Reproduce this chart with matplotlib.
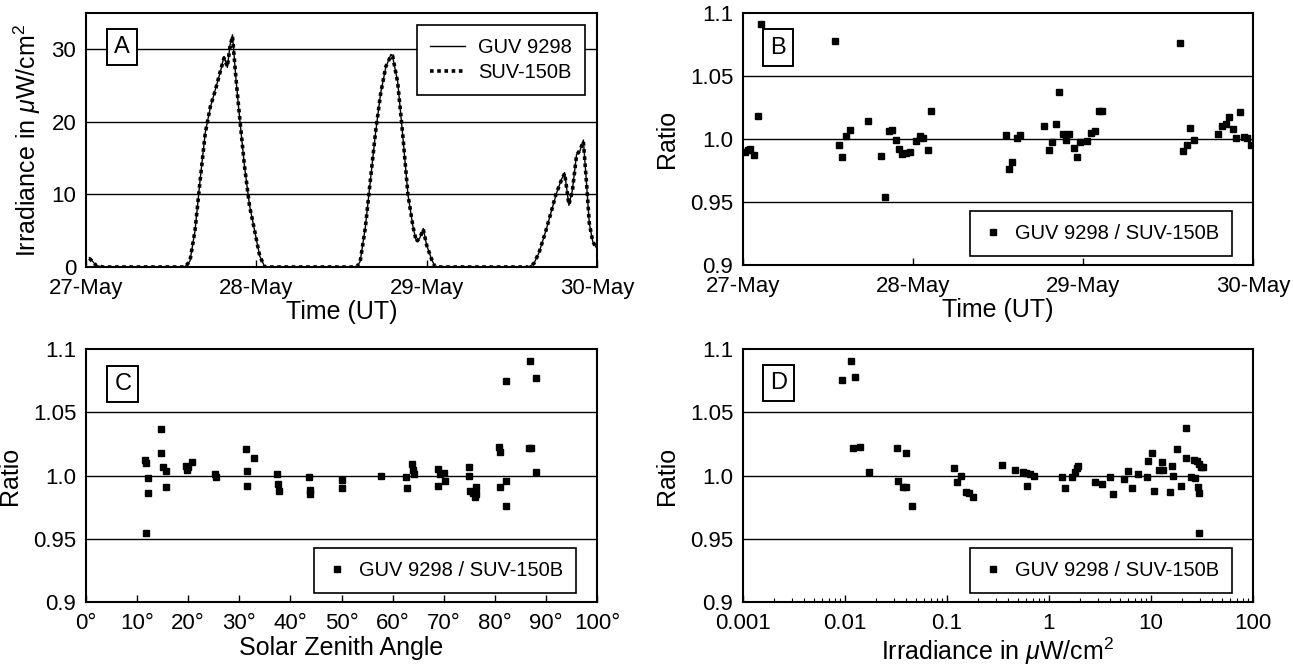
import numpy as np
import matplotlib
matplotlib.use('Agg')
import matplotlib.pyplot as plt
from matplotlib.ticker import LogLocator, NullFormatter

plt.rcParams['font.family'] = ['Liberation Sans', 'DejaVu Sans']
plt.rcParams['mathtext.fontset'] = 'custom'
plt.rcParams['mathtext.it'] = 'Liberation Sans:italic'
plt.rcParams['mathtext.rm'] = 'Liberation Sans'

# --- panel A: irradiance time series (days since 27-May 00 UT)
t_days = [0.02, 0.06, 0.10, 0.58, 0.61, 0.64, 0.67, 0.70, 0.73, 0.76, 0.79, 0.81,
          0.83, 0.845, 0.86, 0.88, 0.90, 0.93, 0.96, 0.99, 1.02, 1.05,
          1.59, 1.61, 1.64, 1.67, 1.70, 1.73, 1.76, 1.79, 1.80, 1.83, 1.86, 1.89,
          1.92, 1.94, 1.96, 1.98, 2.00, 2.03, 2.05,
          2.60, 2.63, 2.66, 2.70, 2.73, 2.76, 2.79, 2.81, 2.835, 2.855, 2.88, 2.90,
          2.92, 2.94, 2.955, 2.975, 2.995]
guv = [1.3, 0.2, 0.0, 0.0, 0.8, 5.0, 12.0, 18.5, 22.0, 24.5, 27.0, 29.0,
       27.5, 30.5, 32.0, 26.0, 21.0, 14.0, 8.5, 5.0, 1.5, 0.0,
       0.0, 0.8, 5.5, 12.0, 18.5, 24.0, 27.5, 29.3, 29.0, 25.5, 18.0, 10.0,
       5.5, 3.5, 4.0, 5.3, 3.0, 1.0, 0.0,
       0.0, 0.5, 2.0, 5.0, 7.5, 10.0, 12.0, 13.0, 8.5, 10.5, 15.5, 16.0,
       17.5, 11.0, 6.0, 3.5, 2.7]
suv = [1.2, 0.2, 0.0, 0.0, 0.8, 5.0, 11.9, 18.4, 22.1, 24.4, 27.1, 28.8,
       27.6, 30.3, 31.8, 26.1, 21.1, 14.0, 8.4, 5.0, 1.5, 0.0,
       0.0, 0.8, 5.4, 12.1, 18.6, 23.9, 27.6, 29.1, 29.1, 25.4, 18.1, 10.0,
       5.5, 3.5, 4.0, 5.2, 3.0, 1.0, 0.0,
       0.0, 0.5, 2.0, 5.0, 7.5, 10.1, 11.9, 12.9, 8.6, 10.4, 15.4, 16.1,
       17.3, 11.1, 6.0, 3.5, 2.7]
day_ticks = [0, 1, 2, 3]
day_labels = ['27-May', '28-May', '29-May', '30-May']

# --- panel B: ratio vs time
b_time = [0.012, 0.027, 0.044, 0.064, 0.086, 0.105, 0.542, 0.562, 0.584, 0.606, 0.628,
          0.733, 0.81, 0.835, 0.857, 0.876, 0.898, 0.918, 0.937, 0.96, 0.982, 1.02,
          1.04, 1.06, 1.087, 1.106, 1.548, 1.565, 1.585, 1.61, 1.628, 1.773, 1.798,
          1.82, 1.84, 1.86, 1.88, 1.90, 1.92, 1.945, 1.962, 1.982, 2.026, 2.048,
          2.068, 2.092, 2.112, 2.571, 2.590, 2.612, 2.632, 2.654, 2.796, 2.818,
          2.84, 2.86, 2.882, 2.902, 2.926, 2.946, 2.965, 2.988]
b_ratio = [0.990, 0.991, 0.992, 0.9875, 1.018, 1.091, 1.0777, 0.9955, 0.986, 1.002, 1.0074,
           1.014, 0.9864, 0.954, 1.0066, 1.007, 0.9995, 0.992, 0.988, 0.989, 0.990, 0.9987,
           1.0027, 1.001, 0.991, 1.0226, 1.003, 0.976, 0.982, 1.0005, 1.003, 1.0106, 0.991,
           0.998, 1.012, 1.037, 1.004, 0.999, 1.004, 0.993, 0.986, 0.998, 0.9987, 1.0048,
           1.006, 1.022, 1.022, 1.0758, 0.9907, 0.9955, 1.0088, 0.9995, 1.004, 1.0106,
           1.012, 1.0173, 1.008, 1.0008, 1.0213, 1.0019, 1.0005, 0.9955]

# --- panel C: ratio vs solar zenith angle
c_sza = [11.6, 11.8, 12.1, 12.2, 11.8, 14.7, 14.7, 15.0, 15.7, 15.7, 19.5, 19.7, 19.9,
         20.7, 25.2, 25.4, 31.3, 31.5, 31.5, 32.8, 37.4, 37.5, 37.7, 43.7, 43.9, 43.9,
         50.0, 50.1, 57.7, 62.7, 62.9, 63.7, 63.9, 64.1, 68.8, 68.9, 69.2, 70.0, 70.2,
         74.9, 75.0, 75.1, 75.7, 76.1, 76.3, 76.3, 80.9, 81.1, 81.1, 82.1, 82.1, 82.1,
         86.8, 86.6, 87.0, 88.1, 88.1]
c_ratio = [1.0124, 1.010, 0.998, 0.986, 0.9547, 1.037, 1.0176, 1.007, 1.0034, 0.9913,
           1.0079, 1.004, 1.0066, 1.0105, 1.0008, 0.9987, 1.021, 1.0032, 0.9916, 1.0137,
           1.0008, 0.9929, 0.9874, 0.9987, 0.9887, 0.985, 0.9966, 0.9903, 0.9995, 0.9987,
           0.990, 1.0087, 1.004, 1.0013, 1.0053, 0.992, 1.0013, 1.0018, 0.9953, 1.0066,
           1.0, 0.9874, 0.9863, 0.983, 0.9908, 0.9855, 1.0224, 1.0184, 0.9913, 1.075,
           0.9955, 0.9758, 1.0903, 1.0218, 1.0218, 1.077, 1.0026]
sza_ticks = [0, 10, 20, 30, 40, 50, 60, 70, 80, 90, 100]

# --- panel D: ratio vs irradiance
d_irr = [0.0094, 0.01156, 0.0126, 0.0121, 0.0141, 0.0173, 0.032, 0.0329, 0.0368, 0.0398,
         0.0398, 0.0457, 0.116, 0.125, 0.137, 0.155, 0.166, 0.179, 0.346, 0.459, 0.554,
         0.591, 0.608, 0.65, 0.714, 1.34, 1.42, 1.67, 1.80, 1.87, 1.92, 2.80, 3.31, 4.0,
         4.27, 5.4, 5.93, 6.52, 7.51, 9.07, 9.33, 10.25, 10.6, 12.0, 12.85, 13.2, 15.2,
         16.1, 16.4, 18.0, 19.8, 21.8, 22.2, 24.8, 26.3, 26.7, 28.0, 28.8, 29.4, 29.4,
         29.4, 30.8, 32.4]
d_ratio = [1.0754, 1.0907, 1.0775, 1.0217, 1.0225, 1.0026, 1.022, 0.9955, 0.9907, 0.9907,
           1.018, 0.9757, 1.006, 0.9952, 1.0, 0.9873, 0.986, 0.9828, 1.0085, 1.0045, 1.0026,
           1.0019, 0.992, 1.0008, 0.9995, 0.9987, 0.990, 0.9987, 1.0026, 1.0058, 1.0074,
           0.9952, 0.9934, 0.9987, 0.9854, 0.9974, 1.0034, 0.990, 1.0013, 0.9987, 1.0111,
           1.0177, 0.988, 1.004, 1.0106, 1.004, 0.9873, 1.0079, 1.0, 1.0212, 0.9915, 1.0376,
           1.0138, 0.9987, 1.0124, 0.9979, 1.0111, 0.9913, 1.0093, 0.986, 0.9545, 1.0071,
           1.0066]

ratio_ticks = [0.9, 0.95, 1.0, 1.05, 1.1]
ratio_labels = ['0.9', '0.95', '1.0', '1.05', '1.1']

FS = 16      # tick labels
LFS = 18     # axis labels
GFS = 14.5   # legend text
fig = plt.figure(figsize=(12.93, 6.67), dpi=100)
W, H = 1293, 667


def box(l, t, r, b):
    return [l / W, 1 - b / H, (r - l) / W, (b - t) / H]


axA = fig.add_axes(box(86, 13, 597, 267))
axB = fig.add_axes(box(743, 13, 1253, 265))
axC = fig.add_axes(box(86, 349, 597, 602))
axD = fig.add_axes(box(743, 349, 1253, 602))

for ax in (axA, axB, axC, axD):
    for s in ax.spines.values():
        s.set_linewidth(1.5)
    ax.tick_params(axis='x', direction='in', length=5, width=1, labelsize=FS, pad=8)
    ax.tick_params(axis='y', direction='out', length=0, labelsize=FS, pad=7)
    ax.tick_params(which='minor', direction='in', length=3, width=0.8)


def label_box(ax, x, y, s):
    ax.text(x, y, s, transform=ax.transAxes, fontsize=17, ha='center', va='center',
            bbox=dict(boxstyle='square,pad=0.3', fc='white', ec='black', lw=1.4))


# A
axA.plot(t_days, guv, color='black', lw=1.0, label='GUV 9298')
axA.plot(t_days, suv, color='black', lw=2.6, ls=(0, (1, 1)), label='SUV-150B')
for v in [10, 20, 30]:
    axA.axhline(v, color='black', lw=1.0, zorder=0)
axA.set_xlim(0, 3)
axA.set_ylim(0, 35)
axA.set_yticks([0, 10, 20, 30])
axA.set_xticks(day_ticks)
axA.set_xticklabels(day_labels)
axA.set_xlabel('Time (UT)', fontsize=LFS, labelpad=1)
axA.set_ylabel(r'Irradiance in $\mu$W/cm$^2$', fontsize=LFS, labelpad=6)
legA = axA.legend(loc='upper right', bbox_to_anchor=(0.977, 0.953), fontsize=GFS,
                  frameon=True, fancybox=False, edgecolor='black', handlelength=1.75,
                  borderpad=0.65, labelspacing=0.3, handletextpad=0.65, borderaxespad=0)
legA.get_frame().set_linewidth(1.2)
legA.get_frame().set_alpha(1)
label_box(axA, 0.07, 0.866, 'A')


def ratio_axes(ax, lx, ly, label):
    for v in [0.95, 1.0, 1.05]:
        ax.axhline(v, color='black', lw=1.0, zorder=0)
    ax.set_ylim(0.9, 1.1)
    ax.set_yticks(ratio_ticks)
    ax.set_yticklabels(ratio_labels)
    ax.set_ylabel('Ratio', fontsize=LFS, labelpad=8)
    leg = ax.legend(loc='lower right', bbox_to_anchor=(0.959, 0.036), fontsize=GFS,
                    frameon=True, fancybox=False, edgecolor='black', handlelength=1.0,
                    borderpad=0.65, handletextpad=0.6, borderaxespad=0)
    leg.get_frame().set_linewidth(1.2)
    leg.get_frame().set_alpha(1)
    label_box(ax, lx, ly, label)


mk = dict(marker='s', ls='none', color='black', markersize=4.2, label='GUV 9298 / SUV-150B')

# B
axB.plot(b_time, b_ratio, **mk)
axB.set_xlim(0, 3)
axB.set_xticks(day_ticks)
axB.set_xticklabels(day_labels)
axB.set_xlabel('Time (UT)', fontsize=LFS, labelpad=1)
ratio_axes(axB, 0.069, 0.863, 'B')

# C
axC.plot(c_sza, c_ratio, **mk)
axC.set_xlim(0, 100)
axC.set_xticks(sza_ticks)
axC.set_xticklabels([f'{v}\u00b0' for v in sza_ticks])
axC.set_xlabel('Solar Zenith Angle', fontsize=LFS, labelpad=1)
ratio_axes(axC, 0.072, 0.862, 'C')

# D
axD.plot(d_irr, d_ratio, **mk)
axD.set_xscale('log')
axD.set_xlim(0.001, 100)
axD.set_xticks([0.001, 0.01, 0.1, 1, 10, 100])
axD.set_xticklabels(['0.001', '0.01', '0.1', '1', '10', '100'])
axD.xaxis.set_minor_locator(LogLocator(base=10, subs=np.arange(2, 10), numticks=20))
axD.xaxis.set_minor_formatter(NullFormatter())
axD.set_xlabel(r'Irradiance in $\mu$W/cm$^2$', fontsize=LFS, labelpad=1)
ratio_axes(axD, 0.069, 0.865, 'D')

fig.savefig('out.png', dpi=100)
